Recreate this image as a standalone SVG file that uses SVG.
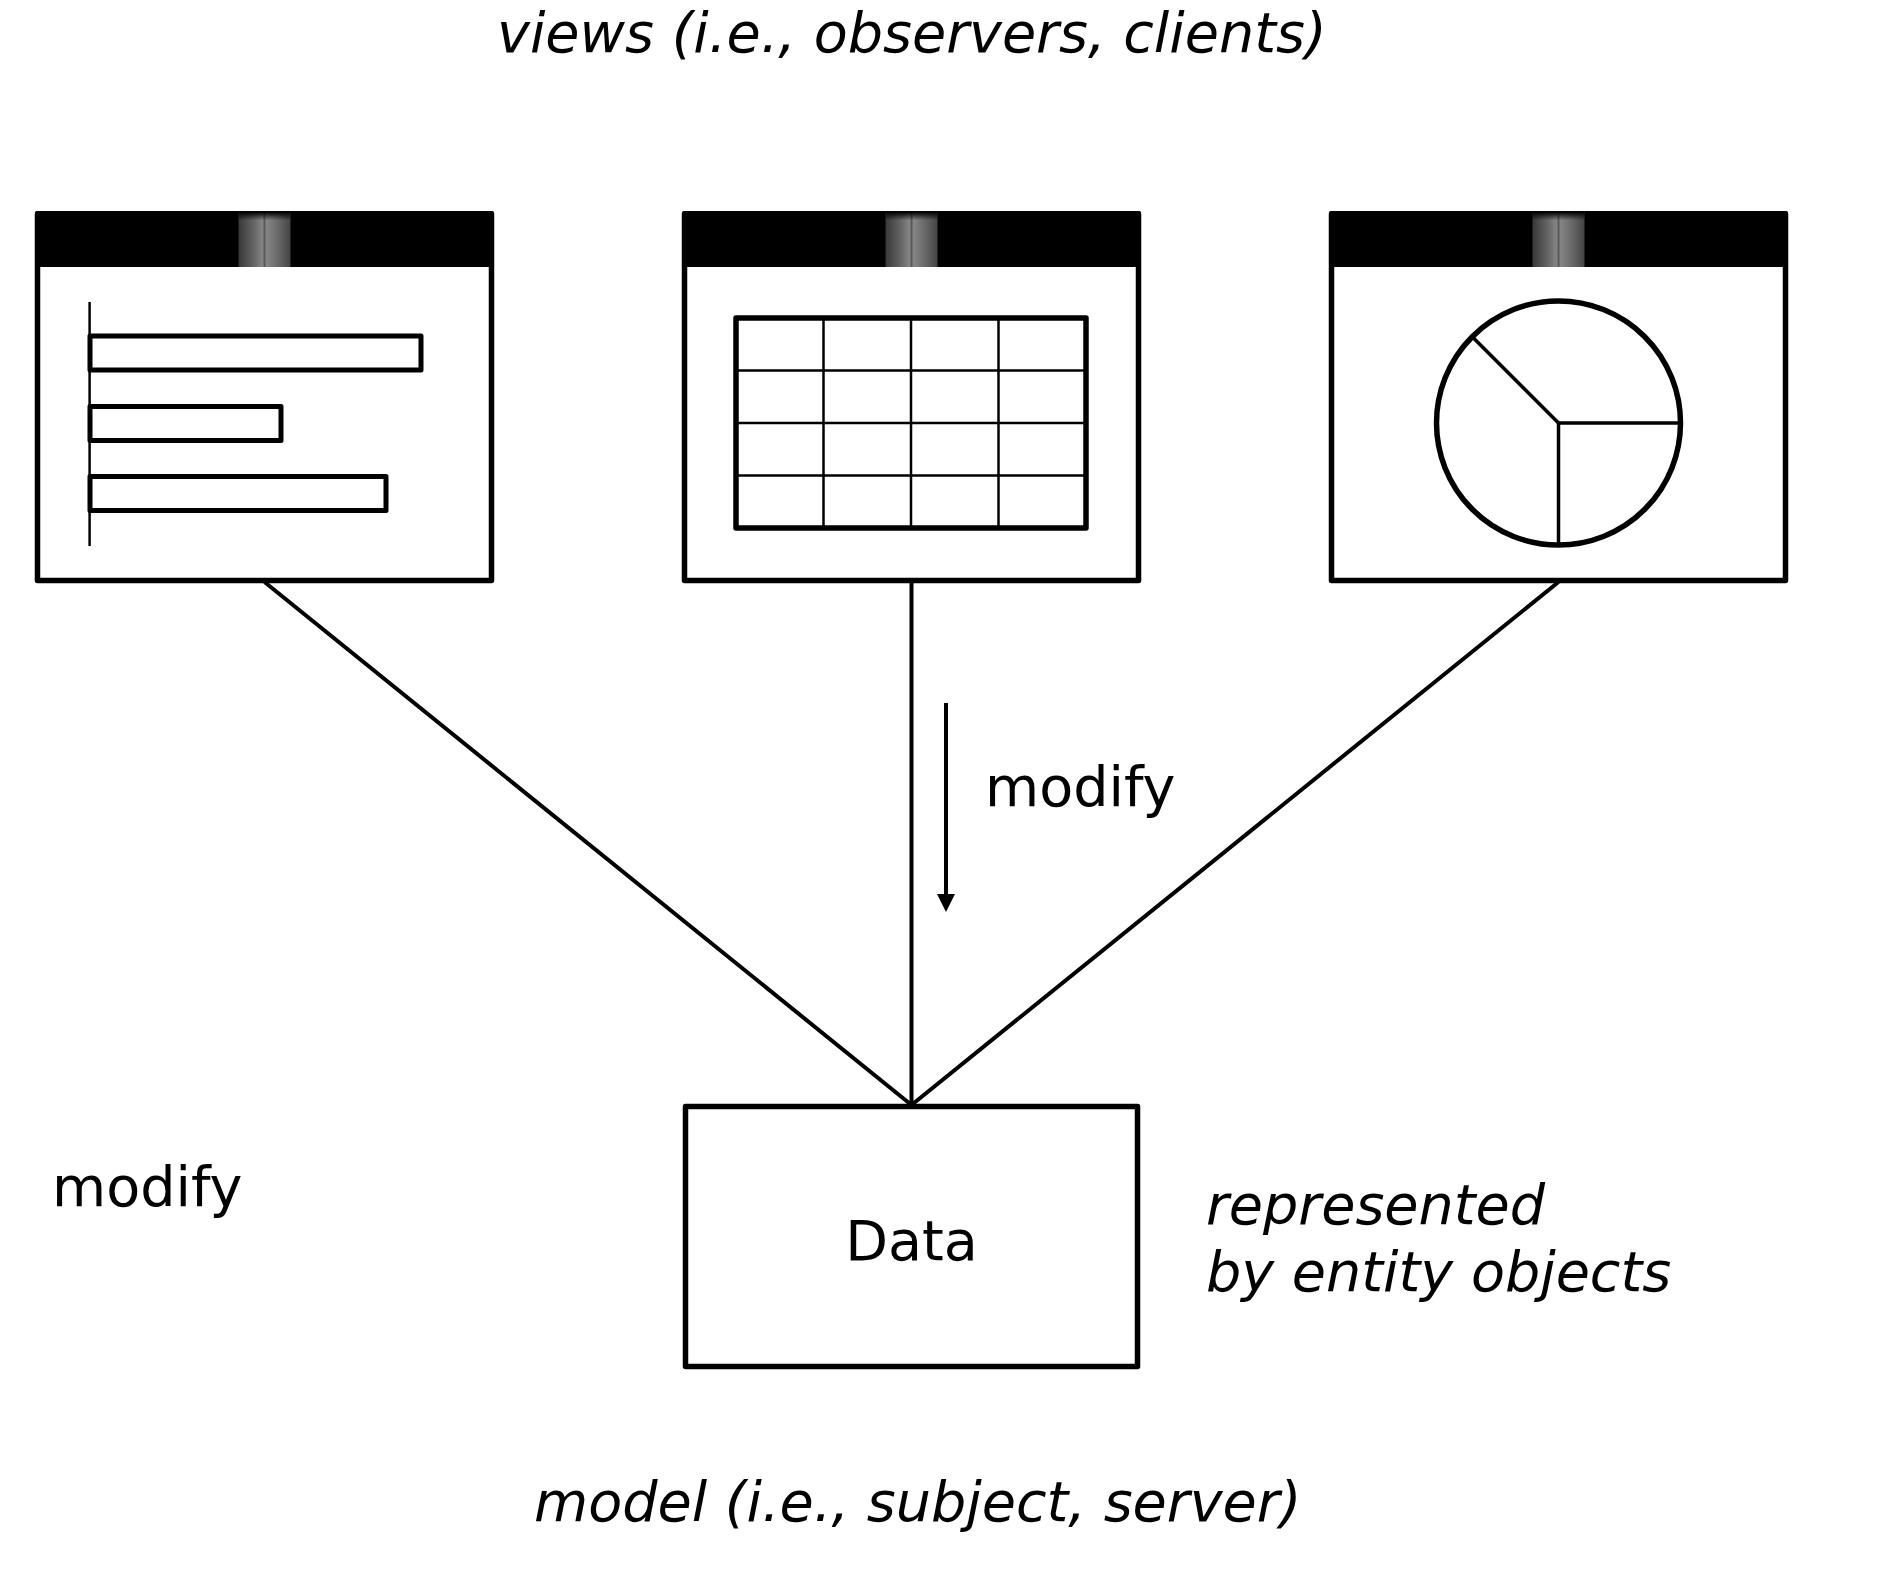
<svg xmlns="http://www.w3.org/2000/svg" width="1880" height="1573" viewBox="0 0 1880 1573">
  <style>
    .frame { fill: #ffffff; stroke: #000000; stroke-width: 5.5; stroke-linejoin: round; }
    .bar { fill: #ffffff; stroke: #000000; stroke-width: 5; stroke-linejoin: round; }
    .thin { fill: none; stroke: #000000; stroke-width: 2.5; }
    .mid { fill: none; stroke: #000000; stroke-width: 3.5; }
    .conn { fill: none; stroke: #000000; stroke-width: 4; }
    .title { fill: #000000; }
    .txt { font-family: "DejaVu Sans", "Liberation Sans", sans-serif; font-size: 55.6px; fill: #000000; }
    .it { font-style: italic; }
  </style>
  <defs>
    <linearGradient id="knobH" x1="0" y1="0" x2="1" y2="0">
      <stop offset="0" stop-color="#383838"/>
      <stop offset="0.3" stop-color="#666666"/>
      <stop offset="0.46" stop-color="#858585"/>
      <stop offset="0.5" stop-color="#5a5a5a"/>
      <stop offset="0.54" stop-color="#858585"/>
      <stop offset="0.75" stop-color="#6a6a6a"/>
      <stop offset="1" stop-color="#444444"/>
    </linearGradient>
    <linearGradient id="knobV" x1="0" y1="0" x2="0" y2="1">
      <stop offset="0" stop-color="#000000" stop-opacity="1"/>
      <stop offset="0.15" stop-color="#000000" stop-opacity="0"/>
      <stop offset="1" stop-color="#000000" stop-opacity="0"/>
    </linearGradient>
    <g id="window">
      <rect class="frame" x="37.5" y="214" width="454" height="366.5"/>
      <rect class="title" x="35" y="211" width="459" height="56" rx="2"/>
      <rect x="238.5" y="212" width="52" height="55" fill="url(#knobH)"/>
      <rect x="238.5" y="212" width="52" height="55" fill="url(#knobV)"/>
    </g>
  </defs>

  <g id="connectors">
    <line class="conn" x1="264.5" y1="582" x2="911.5" y2="1105"/>
    <line class="conn" x1="911.5" y1="582" x2="911.5" y2="1105"/>
    <line class="conn" x1="1558.5" y1="582" x2="911.5" y2="1105"/>
    <line x1="946" y1="703" x2="946" y2="897" stroke="#000000" stroke-width="4"/>
    <polygon points="937,894 955,894 946,912" fill="#000000"/>
  </g>

  <g id="view-bar-chart">
    <use href="#window"/>
    <line class="thin" x1="89.6" y1="302" x2="89.6" y2="546"/>
    <rect class="bar" x="90" y="336" width="331" height="34"/>
    <rect class="bar" x="90" y="406.5" width="191" height="34"/>
    <rect class="bar" x="90" y="476.5" width="296" height="34"/>
  </g>

  <g id="view-table">
    <use href="#window" transform="translate(647,0)"/>
    <rect class="frame" x="736" y="318" width="350" height="210"/>
    <line class="thin" x1="823.5" y1="318" x2="823.5" y2="528"/>
    <line class="thin" x1="911" y1="318" x2="911" y2="528"/>
    <line class="thin" x1="998.5" y1="318" x2="998.5" y2="528"/>
    <line class="thin" x1="736" y1="370.5" x2="1086" y2="370.5"/>
    <line class="thin" x1="736" y1="423" x2="1086" y2="423"/>
    <line class="thin" x1="736" y1="475.5" x2="1086" y2="475.5"/>
  </g>

  <g id="view-pie-chart">
    <use href="#window" transform="translate(1294,0)"/>
    <circle class="frame" cx="1558.5" cy="423" r="122"/>
    <line class="mid" x1="1558.5" y1="423" x2="1680.5" y2="423"/>
    <line class="mid" x1="1558.5" y1="423" x2="1558.5" y2="545"/>
    <line class="mid" x1="1558.5" y1="423" x2="1472" y2="336.5"/>
  </g>

  <g id="model-data">
    <rect class="frame" x="685.5" y="1106.5" width="452" height="260"/>
    <text class="txt" x="911.5" y="1260" text-anchor="middle">Data</text>
  </g>

  <g id="labels">
    <text class="txt it" x="497" y="52">views (i.e., observers, clients)</text>
    <text class="txt it" x="534" y="1521">model (i.e., subject, server)</text>
    <text class="txt" x="985" y="806">modify</text>
    <text class="txt" x="52" y="1206">modify</text>
    <text class="txt it" x="1206" y="1224">represented</text>
    <text class="txt it" x="1206" y="1291">by entity objects</text>
  </g>
</svg>
